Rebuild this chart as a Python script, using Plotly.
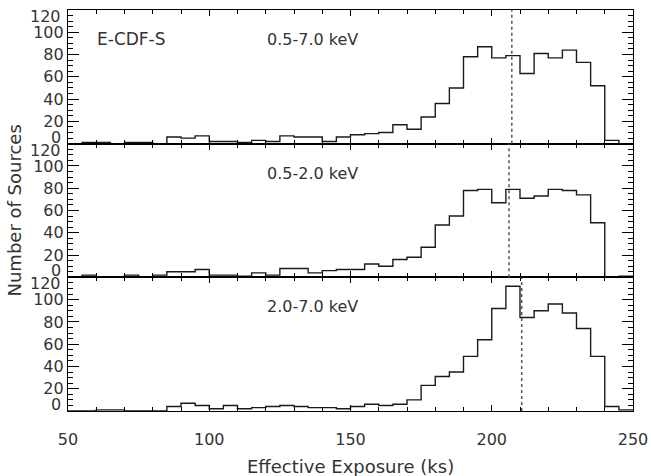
import plotly.graph_objects as go
from plotly.subplots import make_subplots

# Bin edges (ks) and histogram counts per 5 ks bin
bin_edges = list(range(50, 255, 5))

counts_full = [0, 1, 1, 0, 1, 1, 0, 6, 5, 7,
               2, 2, 1, 3, 2, 7, 6, 6, 2, 6,
               8, 9, 10, 17, 13, 24, 36, 50, 78, 87,
               77, 79, 63, 81, 77, 84, 73, 52, 3, 0]
counts_soft = [0, 2, 0, 0, 2, 0, 2, 5, 5, 7,
               2, 2, 1, 4, 2, 8, 8, 4, 6, 7,
               7, 12, 10, 16, 18, 27, 47, 55, 78, 79,
               67, 79, 71, 73, 79, 78, 74, 49, 0, 1]
counts_hard = [0, 0, 1, 1, 0, 0, 0, 4, 7, 5,
               2, 5, 2, 3, 4, 5, 4, 3, 3, 2,
               4, 6, 5, 6, 10, 23, 31, 35, 49, 64,
               92, 112, 84, 90, 96, 88, 74, 49, 4, 1]

band_labels = ["0.5-7.0 keV", "0.5-2.0 keV", "2.0-7.0 keV"]
median_exposure = [207.1, 206.1, 210.6]
field_label = "E-CDF-S"

y_ticks = [20, 40, 60, 80, 100]
x_ticks = [50, 100, 150, 200, 250]

FONT = "DejaVu Sans"
TXT = "#333333"

fig = make_subplots(rows=3, cols=1, shared_xaxes=True, vertical_spacing=0)

for i, counts in enumerate([counts_full, counts_soft, counts_hard]):
    r = i + 1
    fig.add_trace(go.Scatter(x=bin_edges, y=counts + [counts[-1]], mode="lines",
                             line=dict(shape="hv", color="#1a1a1a", width=1.4),
                             showlegend=False, hoverinfo="skip"), row=r, col=1)
    fig.update_yaxes(range=[0, 120], tickvals=y_ticks, ticks="inside", ticklen=11,
                     tickwidth=1, tickcolor="black", mirror="ticks", showline=True,
                     linecolor="black", linewidth=1.2, showgrid=False, zeroline=False,
                     minor=dict(dtick=5, ticklen=5, ticks="inside", tickcolor="black",
                                showgrid=False),
                     tickfont=dict(family=FONT, size=16, color=TXT),
                     automargin=False, row=r, col=1)
    fig.update_xaxes(range=[50, 250], tickvals=x_ticks, ticks="inside", ticklen=6,
                     tickwidth=1, tickcolor="black", mirror="ticks", showline=True,
                     linecolor="black", linewidth=1.2, showgrid=False, zeroline=False,
                     minor=dict(dtick=10, ticklen=4, ticks="inside", tickcolor="black",
                                showgrid=False),
                     showticklabels=(r == 3), ticklabelstandoff=14,
                     ticklabeloverflow="allow",
                     tickfont=dict(family=FONT, size=16, color=TXT),
                     automargin=False, row=r, col=1)
    yref = "y" if r == 1 else f"y{r}"
    xref = "x" if r == 1 else f"x{r}"
    fig.add_shape(type="line", xref=xref, yref=yref + " domain",
                  x0=median_exposure[i], x1=median_exposure[i], y0=0, y1=1,
                  line=dict(color="#555555", width=1.5, dash="dot"))
    fig.add_annotation(text=band_labels[i], xref=xref, yref=yref + " domain",
                       x=119.7, y=0.78, xanchor="left", yanchor="middle",
                       showarrow=False, font=dict(family=FONT, size=16, color=TXT))
    # 0 and 120 labels offset so they sit on either side of panel boundaries
    fig.add_annotation(text="0", xref="paper", yref=yref, x=0, y=0,
                       xanchor="right", yanchor="middle", xshift=-5, yshift=6.5,
                       showarrow=False, font=dict(family=FONT, size=16, color=TXT))
    fig.add_annotation(text="120", xref="paper", yref=yref, x=0, y=120,
                       xanchor="right", yanchor="middle", xshift=-5, yshift=-6.5,
                       showarrow=False, font=dict(family=FONT, size=16, color=TXT))

fig.add_annotation(text=field_label, xref="x", yref="y domain", x=59.6, y=0.78,
                   xanchor="left", yanchor="middle", showarrow=False,
                   font=dict(family=FONT, size=17, color=TXT))
fig.add_annotation(text="Number of Sources", xref="paper", yref="paper", x=0, y=0.5,
                   xshift=-54, textangle=-90, xanchor="center", yanchor="middle",
                   showarrow=False, font=dict(family=FONT, size=18, color=TXT))
fig.add_annotation(text="Effective Exposure (ks)", xref="paper", yref="paper",
                   x=0.5, y=0, yshift=-55, xanchor="center", yanchor="middle",
                   showarrow=False, font=dict(family=FONT, size=18, color=TXT))

fig.update_layout(width=651, height=476, margin=dict(l=68, r=18, t=10, b=65),
                  autosize=False,
                  plot_bgcolor="white", paper_bgcolor="white",
                  font=dict(family=FONT, size=16, color=TXT))

fig.write_html("out.html", config={"displayModeBar": False, "responsive": False})

# remove default page margins / scrollbars so the figure sits at the page origin
with open("out.html", "r", encoding="utf-8") as f:
    html = f.read()
html = html.replace("<head>", "<head><style>html,body{margin:0;padding:0;overflow:hidden;}</style>", 1)
with open("out.html", "w", encoding="utf-8") as f:
    f.write(html)
